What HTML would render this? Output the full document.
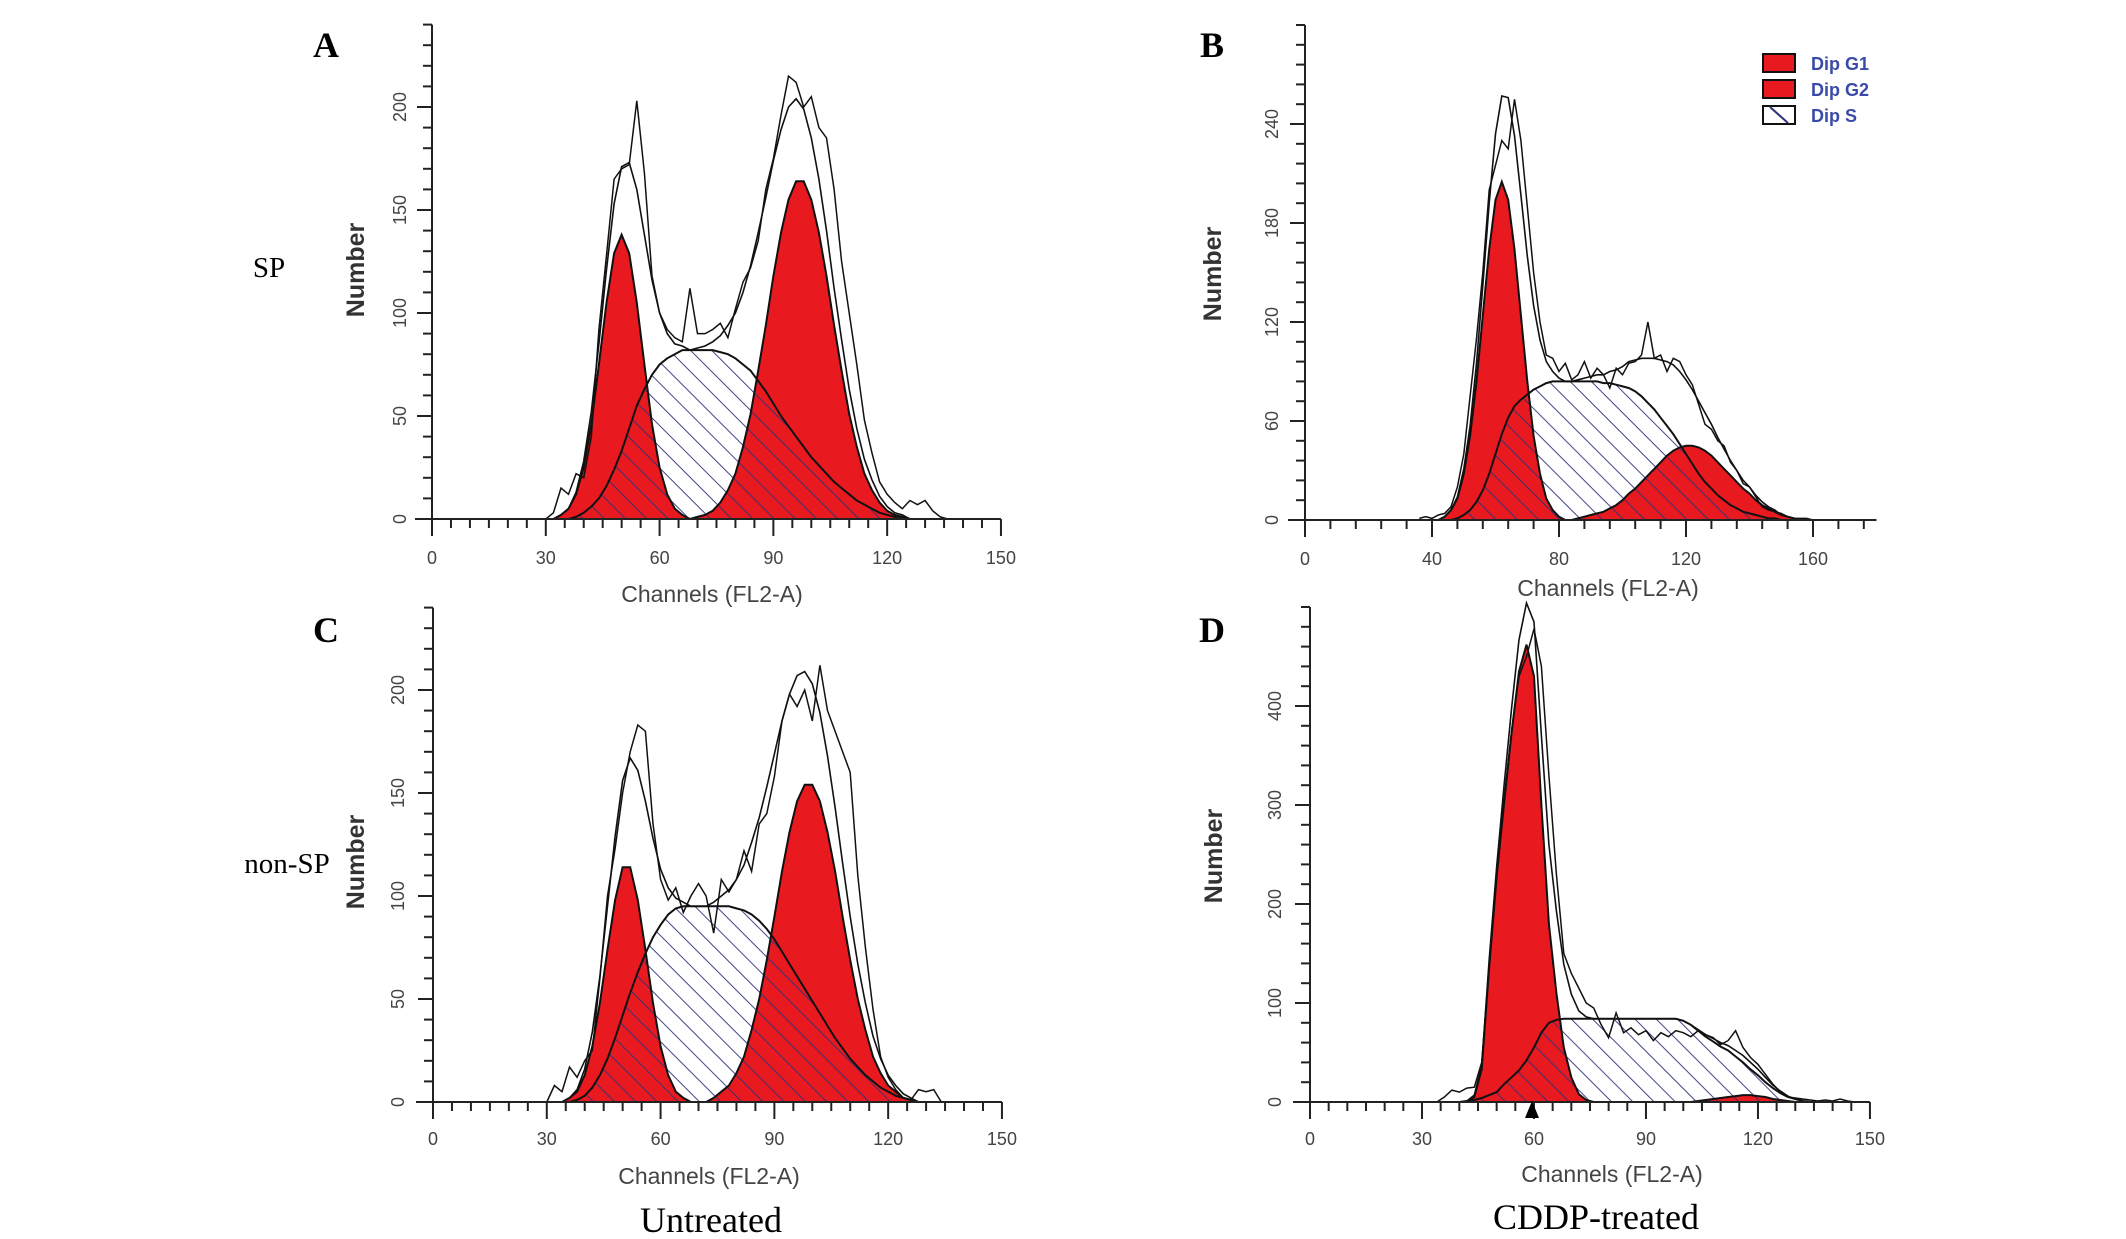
<!DOCTYPE html>
<html><head><meta charset="utf-8"><style>
html,body{margin:0;padding:0;background:#fff;}
svg{display:block;}
text{font-family:"Liberation Sans",Arial,sans-serif;}
.serif{font-family:"Liberation Serif","Times New Roman",serif;}
</style></head><body>
<svg id="fig" width="2126" height="1239" viewBox="0 0 2126 1239" xmlns="http://www.w3.org/2000/svg">
<defs>
<pattern id="hatch" patternUnits="userSpaceOnUse" width="15" height="15" patternTransform="rotate(-45)">
<line x1="0" y1="0" x2="0" y2="15" stroke="#2d3278" stroke-width="2"/>
</pattern>
</defs>
<g id="root"></g>
</svg>
<script>
// ---- Panel A (SP, untreated), channels from 30 step 2
const aStart = 30;
const aG1 = [0,0,2,5,12,25,46,75,105,129,138,129,105,75,46,25,12,5,2,0];
const aS  = [0,0,0,0,1,3,6,10,16,24,33,44,55,63,70,75,78,80,82,82,82,82,82,81,80,78,75,72,67,62,56,50,45,40,35,30,26,22,18,15,12,9,7,5,3,2,1,1,0];
const aG2 = [0,0,0,0,0,0,0,0,0,0,0,0,0,0,0,0,0,0,0,0,1,2,4,8,14,22,35,51,72,94,118,139,155,164,164,155,139,118,94,72,51,35,22,14,8,4,2,1,0];
const aRaw = [0,3,15,12,22,20,40,92,128,165,170,172,203,168,118,100,92,88,86,112,90,90,92,95,88,102,115,122,135,160,175,196,215,212,200,205,190,185,160,125,100,75,48,32,18,12,8,5,9,7,9,4,1,0];
const aXTicks = [0,30,60,90,120,150];
const aYTicks = [0,50,100,150,200];
// ---- Panel B (SP, CDDP), channels from 36 step 2
const bStart = 36;
const bG1 = [0,0,0,0,2,6,13,28,51,84,124,164,194,205,194,164,124,84,51,28,13,6,2,0];
const bS  = [0,0,0,0,0,0,1,3,6,11,18,28,40,52,62,69,73,76,79,81,83,84,84,84,84,84,84,84,84,83,83,82,81,80,78,75,71,67,62,57,52,46,40,34,28,23,19,15,12,9,7,5,4,3,2,1,1,0];
const bG2 = [0,0,0,0,0,0,0,0,0,0,0,0,0,0,0,0,0,0,0,0,0,0,0,0,0,1,2,3,4,5,7,9,12,16,19,23,27,31,35,39,42,44,45,45,44,42,39,35,31,27,23,19,16,12,9,7,5,3,2,1,0];
const bRaw = [1,2,1,3,4,8,20,40,75,110,150,200,215,230,225,255,230,190,150,120,100,98,90,95,85,88,96,86,92,88,80,92,88,95,96,100,120,98,100,90,98,96,88,82,70,58,55,48,45,35,30,22,20,14,8,6,5,4,2,1,1,1,0];
const bXTicks = [0,40,80,120,160];
const bYTicks = [0,60,120,180,240];
// ---- Panel C (non-SP, untreated), channels from 30 step 2
const cStart = 30;
const cG1 = [0,0,0,2,5,13,27,48,74,98,114,114,98,74,48,27,13,5,2,0];
const cS  = [0,0,0,0,1,3,7,13,21,31,42,53,63,72,80,86,91,94,95,95,95,95,95,95,95,94,93,91,88,84,79,73,67,61,55,49,43,37,31,26,21,17,13,10,7,5,3,2,1,0];
const cG2 = [0,0,0,0,0,0,0,0,0,0,0,0,0,0,0,0,0,0,0,0,0,0,2,5,8,14,22,35,50,69,90,112,131,146,154,154,146,131,112,90,69,50,35,22,14,8,5,2,1,0];
const cRaw = [0,8,5,17,12,20,25,60,100,123,150,170,183,180,135,108,98,104,92,100,106,100,82,108,102,108,122,112,135,140,158,185,198,192,200,185,212,190,180,170,160,110,75,45,22,12,6,2,1,6,5,6,0,0];
const cXTicks = [0,30,60,90,120,150];
const cYTicks = [0,50,100,150,200];
// ---- Panel D (non-SP, CDDP), channels from 34 step 2
const dStart = 34;
const dG1 = [0,0,0,0,0,5,33,137,228,302,373,435,462,430,300,180,110,55,25,8,2,0];
const dS  = [0,0,0,0,1,2,4,7,10,18,25,32,42,55,70,80,83,84,84,84,84,84,84,84,84,84,84,84,84,84,84,84,84,82,78,72,66,61,56,52,46,40,33,27,20,14,9,5,3,1,0];
const dG2 = [0,0,0,0,0,0,0,0,0,0,0,0,0,0,0,0,0,0,0,0,0,0,0,0,0,0,0,0,0,0,0,0,0,0,0,1,2,3,4,5,6,7,7,6,5,3,2,1,0];
const dRaw = [0,5,12,10,14,15,40,135,230,305,375,430,450,478,440,330,230,150,130,115,100,95,78,65,90,70,75,68,72,62,70,66,72,70,66,72,68,65,58,62,72,55,45,38,28,18,10,5,4,3,2,1,2,1,3,1,0];
const dXTicks = [0,30,60,90,120,150];
const dYTicks = [0,100,200,300,400];

const NS = "http://www.w3.org/2000/svg";
const root = document.getElementById('root');
function el(tag, attrs, parent){
  const e = document.createElementNS(NS, tag);
  for (const k in attrs) e.setAttribute(k, attrs[k]);
  (parent||root).appendChild(e);
  return e;
}
function txt(content, attrs, parent){
  const t = el('text', attrs, parent);
  t.textContent = content;
  return t;
}

const panels = [
  {id:'a', x0:432, k:3.793, base:519, u:2.06, yMax:240, yMinor:10, xMinor:5, xEnd:150, start:aStart, g1:aG1, s:aS, g2:aG2, raw:aRaw, xt:aXTicks, yt:aYTicks, letter:'A', lx:326, ly:57, labX:400, numX:356, numY:270, chX:712, chY:594, tickY:558},
  {id:'b', x0:1305, k:3.175, base:520, u:1.65, yMax:300, yMinor:12, xMinor:8, xEnd:180, start:bStart, g1:bG1, s:bS, g2:bG2, raw:bRaw, xt:bXTicks, yt:bYTicks, letter:'B', lx:1212, ly:57, labX:1272, numX:1213, numY:274, chX:1608, chY:588, tickY:559},
  {id:'c', x0:433, k:3.793, base:1102, u:2.06, yMax:240, yMinor:10, xMinor:5, xEnd:150, start:cStart, g1:cG1, s:cS, g2:cG2, raw:cRaw, xt:cXTicks, yt:cYTicks, letter:'C', lx:326, ly:642, labX:398, numX:356, numY:862, chX:709, chY:1176, tickY:1139},
  {id:'d', x0:1310, k:3.733, base:1102, u:0.99, yMax:500, yMinor:20, xMinor:5, xEnd:150, start:dStart, g1:dG1, s:dS, g2:dG2, raw:dRaw, xt:dXTicks, yt:dYTicks, letter:'D', lx:1212, ly:642, labX:1275, numX:1214, numY:856, chX:1612, chY:1174, tickY:1139}
];

function areaPath(p, arr){
  const X = c => p.x0 + c*p.k, Y = v => p.base - v*p.u;
  let d = 'M' + X(p.start).toFixed(1) + ',' + p.base;
  for (let i=0;i<arr.length;i++) d += ' L' + X(p.start+2*i).toFixed(1) + ',' + Y(arr[i]).toFixed(1);
  d += ' L' + X(p.start+2*(arr.length-1)).toFixed(1) + ',' + p.base + ' Z';
  return d;
}
function linePath(p, arr){
  const X = c => p.x0 + c*p.k, Y = v => p.base - v*p.u;
  let d = '';
  for (let i=0;i<arr.length;i++) d += (i?' L':'M') + X(p.start+2*i).toFixed(1) + ',' + Y(arr[i]).toFixed(1);
  return d;
}

panels.forEach(p => {
  const g = el('g', {});
  
  
  const X = c => p.x0 + c*p.k, Y = v => p.base - v*p.u;
  const fit = p.raw.map((_, i) => (p.g1[i]||0) + (p.s[i]||0) + (p.g2[i]||0));

  const sWhite = el('path', {d:areaPath(p,p.s), fill:'#fff', stroke:'none'}, g);
  
  
  const g1 = el('path', {d:areaPath(p,p.g1), fill:'#e8191f', stroke:'none'}, g);
  
  
  const g2 = el('path', {d:areaPath(p,p.g2), fill:'#e8191f', stroke:'none'}, g);
  
  
  const sH = el('path', {d:areaPath(p,p.s), fill:'url(#hatch)', stroke:'none', opacity:'0.9'}, g);
  
  
  [p.g1, p.g2, p.s].forEach((arr, j) => {
    const o = el('path', {d:linePath(p,arr), fill:'none', stroke:'#111', 'stroke-width':'2'}, g);
    
    
  });
  const f = el('path', {d:linePath(p,fit), fill:'none', stroke:'#111', 'stroke-width':'1.6'}, g);
  
  
  const r = el('path', {d:linePath(p,p.raw), fill:'none', stroke:'#111', 'stroke-width':'1.5'}, g);
  
  

  const ax = el('g', {stroke:'#222', 'stroke-width':'2', fill:'none'}, g);
  
  
  el('line', {x1:p.x0, y1:Y(p.yMax), x2:p.x0, y2:p.base+17}, ax);
  el('line', {x1:p.x0-17, y1:p.base, x2:X(p.xEnd), y2:p.base}, ax);
  for (let v=0; v<=p.yMax+0.01; v+=p.yMinor){
    const major = p.yt.indexOf(v) >= 0;
    el('line', {x1:p.x0-(major?15:9), y1:Y(v), x2:p.x0, y2:Y(v)}, ax);
  }
  for (let c=0; c<=p.xEnd+0.01; c+=p.xMinor){
    const major = p.xt.indexOf(c) >= 0;
    el('line', {x1:X(c), y1:p.base, x2:X(c), y2:p.base+(major?17:9)}, ax);
  }
  p.yt.forEach(v => {
    const t = txt(String(v), {x:p.labX, y:Y(v), 'font-size':'18', fill:'#444', 'text-anchor':'middle', 'dominant-baseline':'central', transform:'rotate(-90 '+p.labX+' '+Y(v)+')'}, g);
    
    
  });
  p.xt.forEach(c => {
    const t = txt(String(c), {x:X(c), y:p.tickY, 'font-size':'18', fill:'#444', 'text-anchor':'middle', 'dominant-baseline':'central'}, g);
    
    
  });
  const xt = txt('Channels (FL2-A)', {x:p.chX, y:p.chY, 'font-size':'23', fill:'#444', 'text-anchor':'middle', 'dominant-baseline':'central'}, g);
  
  
  const yt = txt('Number', {x:p.numX, y:p.numY, 'font-size':'25', 'font-weight':'bold', fill:'#333', 'text-anchor':'middle', 'dominant-baseline':'central', transform:'rotate(-90 '+p.numX+' '+p.numY+')'}, g);
  
  
  const L = txt(p.letter, {x:p.lx, y:p.ly, 'font-size':'36', 'font-weight':'bold', fill:'#000', 'text-anchor':'middle', class:'serif'}, g);
  
  
});

const tri = el('path', {d:'M1525,1118 L1532,1101 L1539,1118 Z', fill:'#000'});



const lab1 = txt('SP', {x:269, y:277, 'font-size':'29', fill:'#000', 'text-anchor':'middle', class:'serif'});


const lab2 = txt('non-SP', {x:287, y:873, 'font-size':'29', fill:'#000', 'text-anchor':'middle', class:'serif'});


const lab3 = txt('Untreated', {x:711, y:1232, 'font-size':'36', fill:'#000', 'text-anchor':'middle', class:'serif'});


const lab4 = txt('CDDP-treated', {x:1596, y:1229, 'font-size':'36', fill:'#000', 'text-anchor':'middle', class:'serif'});



const leg = el('g', {});


const legNames = ['Dip G1','Dip G2','Dip S'];
const legY = [54, 80, 106];
legNames.forEach((n, i) => {
  const b = el('rect', {x:1763, y:legY[i], width:32, height:18, fill:i<2?'#e8191f':'#fff', stroke:'#111', 'stroke-width':'2'}, leg);
  
  
  if (i === 2){
    const h = el('line', {x1:1770, y1:legY[i]+1, x2:1788, y2:legY[i]+17, stroke:'#2d3278', 'stroke-width':'2'}, leg);
    
    
  }
  const t = txt(n, {x:1811, y:legY[i]+10, 'font-size':'18', 'font-weight':'bold', fill:'#3a4aa8', 'dominant-baseline':'central'}, leg);
  
  
});
</script>
</body></html>
